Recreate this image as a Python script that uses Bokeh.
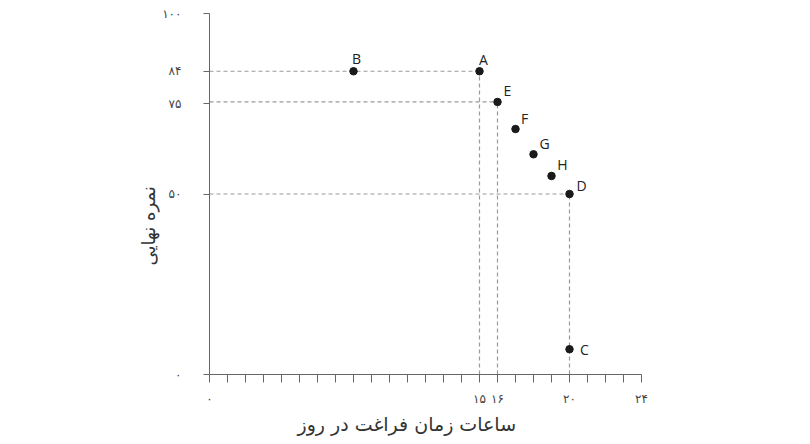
from bokeh.plotting import figure
from bokeh.models import Range1d, ColumnDataSource, Title
from bokeh.core.properties import value
from bokeh.embed import file_html
from bokeh.resources import INLINE

# ---- data ----
letters = ["A", "B", "C", "D", "E", "F", "G", "H"]
hours = [15, 8, 20, 20, 16, 17, 18, 19]
grades = [84, 84, 7, 50, 75.5, 68, 61, 55]
label_dx = [4, 3, 15, 12, 10, 9, 11, 11]
label_dy = [-12, -13, 0, -9, -11, -11, -11, -11]
guide_points = ["A", "E", "D"]

x_ticks = list(range(0, 25))
x_tick_labels = {0: "۰", 15: "۱۵", 16: "۱۶", 20: "۲۰", 24: "۲۴"}
y_ticks = [0, 50, 75, 84, 100]
y_tick_labels = {0: "۰", 50: "۵۰", 75: "۷۵", 84: "۸۴", 100: "۱۰۰"}
x_title = "ساعات زمان فراغت در روز"
y_title = "نمره نهایی"

p = figure(width=794, height=438, output_backend="svg", toolbar_location=None,
           x_range=Range1d(0, 24), y_range=Range1d(0, 100),
           min_border_left=209, min_border_right=153, min_border_top=13, min_border_bottom=64)
p.outline_line_color = None
p.grid.visible = False
p.background_fill_color = "white"
p.border_fill_color = "white"

axis_col = "#666666"
# x axis
xa = p.xaxis[0]
xa.ticker = x_ticks
xa.major_label_overrides = {t: x_tick_labels.get(t, "") for t in x_ticks}
xa.minor_tick_line_color = None
xa.major_tick_in = 0
xa.major_tick_out = 8
xa.axis_line_color = axis_col
xa.major_tick_line_color = axis_col
xa.major_label_text_font = "DejaVu Sans"
xa.major_label_text_font_size = "12px"
xa.major_label_text_color = "#444444"
xa.major_label_standoff = 9

# y axis
ya = p.yaxis[0]
ya.ticker = y_ticks
ya.major_label_overrides = {t: y_tick_labels[t] for t in y_ticks}
ya.minor_tick_line_color = None
ya.major_tick_in = 0
ya.major_tick_out = 6
ya.axis_line_color = axis_col
ya.major_tick_line_color = axis_col
ya.major_label_text_font = "DejaVu Sans"
ya.major_label_text_font_size = "12px"
ya.major_label_text_color = "#444444"
ya.major_label_standoff = 22

# axis titles placed as in the reference (not centred on the frame)
p.add_layout(Title(text=y_title, align="left", offset=109, standoff=2,
                   text_font="DejaVu Sans", text_font_size="18px",
                   text_font_style="normal", text_color="#333333"), "left")
p.add_layout(Title(text=x_title, align="left", offset=88, standoff=4,
                   text_font="DejaVu Sans", text_font_size="19px",
                   text_font_style="normal", text_color="#333333"), "below")

# guide lines
gx = [hours[letters.index(g)] for g in guide_points]
gy = [grades[letters.index(g)] for g in guide_points]
dash_col = "#9a9a9a"
p.segment(x0=[0] * len(gx), y0=gy, x1=gx, y1=gy, line_color=dash_col, line_width=1.2, line_dash="4 3")
p.segment(x0=gx, y0=[0] * len(gx), x1=gx, y1=gy, line_color=dash_col, line_width=1.2, line_dash="4 3")

src = ColumnDataSource(dict(x=hours, y=grades, t=letters, dx=label_dx, dy=label_dy))
p.scatter("x", "y", source=src, size=7.5, fill_color="#1a1a1a", line_color="#1a1a1a")
p.text("x", "y", text="t", source=src, x_offset="dx", y_offset="dy",
       text_font=value("Open Sans"), text_font_size="14px", text_color="#222222",
       text_align="center", text_baseline="middle")

open("out.html", "w").write(file_html(p, INLINE))
